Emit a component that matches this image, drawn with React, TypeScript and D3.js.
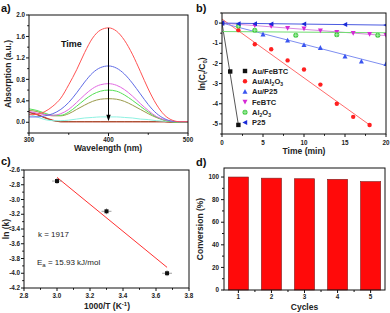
import React from 'react';
import * as d3 from 'd3';

// ---- panel a: UV-vis spectra ----
const WAVELENGTHS = [300, 310, 320, 330, 340, 350, 360, 370, 380, 390, 400, 410, 420, 430, 440, 450, 460, 470, 480, 490, 500];
const SPECTRA = [
  { color: '#ff5353', values: [0.14, 0.15, 0.2, 0.3, 0.45, 0.7, 0.98, 1.3, 1.57, 1.72, 1.76, 1.7, 1.53, 1.27, 0.95, 0.62, 0.34, 0.14, 0.04, 0.01, 0.01] },
  { color: '#5f6be6', values: [0.1, 0.1, 0.12, 0.16, 0.24, 0.37, 0.55, 0.75, 0.92, 1.02, 1.05, 1.01, 0.9, 0.73, 0.53, 0.33, 0.17, 0.07, 0.02, 0.01, 0.01] },
  { color: '#e268e2', values: [0.2, 0.17, 0.14, 0.13, 0.16, 0.24, 0.37, 0.51, 0.63, 0.7, 0.72, 0.69, 0.61, 0.49, 0.35, 0.22, 0.11, 0.05, 0.02, 0.01, 0.01] },
  { color: '#55e055', values: [0.25, 0.22, 0.17, 0.13, 0.13, 0.19, 0.3, 0.42, 0.52, 0.58, 0.6, 0.58, 0.51, 0.41, 0.3, 0.19, 0.1, 0.04, 0.01, 0.0, 0.0] },
  { color: '#9a9a4a', values: [0.22, 0.2, 0.15, 0.12, 0.12, 0.16, 0.24, 0.32, 0.39, 0.43, 0.44, 0.43, 0.39, 0.32, 0.24, 0.16, 0.09, 0.04, 0.01, 0.0, 0.0] },
  { color: '#8ef2e2', values: [0.15, 0.1, 0.05, 0.03, 0.03, 0.04, 0.06, 0.08, 0.09, 0.1, 0.1, 0.1, 0.09, 0.08, 0.06, 0.05, 0.03, 0.02, 0.01, 0.0, 0.0] },
  { color: '#a0522d', values: [0.18, 0.14, 0.08, 0.03, 0.01, 0.01, 0.01, 0.01, 0.01, 0.01, 0.01, 0.01, 0.01, 0.01, 0.01, 0.01, 0.01, 0.01, 0.0, 0.0, 0.0] },
  { color: '#d02020', values: [0.19, 0.15, 0.09, 0.04, 0.01, 0.01, 0.01, 0.01, 0.01, 0.01, 0.01, 0.01, 0.01, 0.01, 0.01, 0.01, 0.01, 0.01, 0.0, 0.0, 0.0] },
];

// ---- panel b: kinetics ----
const KINETICS = [
  { name: 'Au/FeBTC', color: '#111111', line: '#555555', shape: 'square',
    t: [0, 1, 2], v: [0, -2.4, -5.05], fit: [[0, 0], [2, -5.05]] },
  { name: 'Au/Al2O3', color: '#ff2020', line: '#ff6b6b', shape: 'circle',
    t: [2, 4, 6, 8, 10, 12, 14, 16, 18], v: [-0.35, -1.05, -1.3, -1.85, -2.3, -3.05, -4.0, -4.65, -5.05], fit: [[0, 0.2], [18, -5.05]] },
  { name: 'Au/P25', color: '#3a55f0', line: '#7e8ef0', shape: 'triUp',
    t: [0, 5, 8, 10, 12, 15, 17, 20], v: [0, -0.55, -0.85, -1.08, -1.22, -1.65, -1.9, -2.02], fit: [[0, 0], [20, -2.1]] },
  { name: 'FeBTC', color: '#d62ad6', line: '#d98ae0', shape: 'triDown',
    t: [0, 4, 6, 8, 10, 12, 14, 16, 18, 20], v: [0, -0.12, -0.15, -0.25, -0.28, -0.38, -0.45, -0.5, -0.55, -0.6], fit: [[0, 0], [20, -0.62]] },
  { name: 'Al2O3', color: '#3cc83c', line: '#70dc70', shape: 'circleCross',
    t: [2, 4, 9, 14, 19], v: [-0.15, -0.35, -0.6, -0.58, -0.6], fit: [[0, -0.42], [20, -0.48]] },
  { name: 'P25', color: '#1a2bd8', line: '#4a5ae0', shape: 'triLeft',
    t: [0, 2, 4, 6, 10, 15, 20], v: [0, -0.03, -0.03, -0.04, -0.05, -0.07, -0.1], fit: [[0, 0], [20, -0.1]] },
];
const LEGEND_LABELS = [['Au/FeBTC'], ['Au/Al', '2', 'O', '3'], ['Au/P25'], ['FeBTC'], ['Al', '2', 'O', '3'], ['P25']];

// ---- panel c: Arrhenius ----
const INV_T = [3.0, 3.3, 3.667];
const LN_K = [-2.75, -3.16, -4.0];
const FIT_C = [[3.0, -2.7], [3.667, -3.92]];

// ---- panel d: recycling ----
const CYCLES = ['1', '2', '3', '4', '5'];
const CONVERSION = [100, 99, 98.5, 98, 96];

const FONT = '"Liberation Sans", Arial, sans-serif';

type Lin = d3.ScaleLinear<number, number>;

function Frame({ x, y, major, minor, xFmt, yFmt, labelDy = 10 }: {
  x: Lin; y: Lin; major: [number[], number[]]; minor: [number[], number[]];
  xFmt: (v: number) => string; yFmt: (v: number) => string; labelDy?: number;
}) {
  const [x0, x1] = x.range();
  const [y0, y1] = y.range(); // y0 bottom
  return (
    <g fontFamily={FONT} fontWeight="bold" fontSize={6.3} fill="#222">
      <rect x={x0} y={y1} width={x1 - x0} height={y0 - y1} fill="none" stroke="#111" strokeWidth={1} />
      {major[0].map(v => (
        <g key={'xm' + v}>
          <line x1={x(v)} x2={x(v)} y1={y0} y2={y0 + 3} stroke="#111" />
          <text x={x(v)} y={y0 + labelDy} textAnchor="middle">{xFmt(v)}</text>
        </g>
      ))}
      {minor[0].map(v => (
        <line key={'xn' + v} x1={x(v)} x2={x(v)} y1={y0} y2={y0 + 1.8} stroke="#111" />
      ))}
      {major[1].map(v => (
        <g key={'ym' + v}>
          <line x1={x0} x2={x0 - 3} y1={y(v)} y2={y(v)} stroke="#111" />
          <text x={x0 - 4} y={y(v)} dy="0.35em" textAnchor="end">{yFmt(v)}</text>
        </g>
      ))}
      {minor[1].map(v => (
        <line key={'yn' + v} x1={x0} x2={x0 - 1.8} y1={y(v)} y2={y(v)} stroke="#111" />
      ))}
    </g>
  );
}

function Marker({ shape, cx, cy, color }: { shape: string; cx: number; cy: number; color: string }) {
  const s = 2.2;
  if (shape === 'square') return <rect x={cx - s} y={cy - s} width={2 * s} height={2 * s} fill={color} />;
  if (shape === 'circle') return <circle cx={cx} cy={cy} r={s} fill={color} />;
  if (shape === 'circleCross') return (
    <g>
      <circle cx={cx} cy={cy} r={s + 0.3} fill={color} />
      <path d={`M${cx - s},${cy}H${cx + s}M${cx},${cy - s}V${cy + s}`} stroke="#d8ffd8" strokeWidth={0.6} />
    </g>
  );
  const tri: Record<string, string> = {
    triUp: `M${cx},${cy - s - 0.4}L${cx + s + 0.3},${cy + s}L${cx - s - 0.3},${cy + s}Z`,
    triDown: `M${cx},${cy + s + 0.4}L${cx + s + 0.3},${cy - s}L${cx - s - 0.3},${cy - s}Z`,
    triLeft: `M${cx - s - 0.4},${cy}L${cx + s},${cy - s - 0.3}L${cx + s},${cy + s + 0.3}Z`,
  };
  return <path d={tri[shape]} fill={color} />;
}

export default function App() {
  // panel a
  const xa = d3.scaleLinear().domain([300, 500]).range([29, 188]);
  const ya = d3.scaleLinear().domain([-0.2, 2.0]).range([133, 15]);
  const lineA = d3.line<number>().x((_, i) => xa(WAVELENGTHS[i])).y(v => ya(v)).curve(d3.curveMonotoneX);

  // panel b
  const xb = d3.scaleLinear().domain([0, 20]).range([222, 386]);
  const yb = d3.scaleLinear().domain([-5.5, 0.5]).range([134, 13]);

  // panel c
  const xc = d3.scaleLinear().domain([2.8, 3.8]).range([24, 189]);
  const yc = d3.scaleLinear().domain([-4.2, -2.6]).range([288, 170]);

  // panel d
  const xd = d3.scaleBand<string>().domain(CYCLES).range([224, 385]).paddingInner(0.39).paddingOuter(0.13);
  const yd = d3.scaleLinear().domain([0, 108]).range([290, 168]);
  const xdLin = d3.scaleLinear().domain([0, 1]).range([224, 385]);

  const title = { fontFamily: FONT, fontWeight: 'bold' as const, fontSize: 8.5, fill: '#222' };
  const panelLbl = { fontFamily: FONT, fontWeight: 'bold' as const, fontSize: 11, fill: '#111' };

  return (
    <svg width={390} height={313} style={{ position: 'absolute', left: 0, top: 0, background: '#fff' }}>
      {/* ---------- a ---------- */}
      <text x={1} y={12} {...panelLbl}>a)</text>
      <clipPath id="clipA"><rect x={29} y={15} width={159} height={118} /></clipPath>
      <g clipPath="url(#clipA)">
        {SPECTRA.slice().reverse().map((s, i) => (
          <path key={i} d={lineA(s.values) || ''} fill="none" stroke={s.color} strokeWidth={1} />
        ))}
      </g>
      <line x1={xa(400)} x2={xa(400)} y1={ya(1.76)} y2={ya(0.08)} stroke="#000" strokeWidth={1} />
      <path d={`M${xa(400) - 2.2},${ya(0.14)}L${xa(400) + 2.2},${ya(0.14)}L${xa(400)},${ya(0.02)}Z`} fill="#000" />
      <text x={61} y={47} fontFamily={FONT} fontWeight="bold" fontSize={9} fill="#111">Time</text>
      <Frame x={xa} y={ya} labelDy={8.5}
        major={[[300, 400, 500], [0, 0.4, 0.8, 1.2, 1.6, 2.0]]}
        minor={[[350, 450], [-0.2, 0.2, 0.6, 1.0, 1.4, 1.8]]}
        xFmt={v => String(v)} yFmt={v => v.toFixed(1)} />
      <text x={108} y={151} textAnchor="middle" {...title}>Wavelength (nm)</text>
      <text transform="translate(11,74) rotate(-90)" textAnchor="middle" {...title}>Absorption (a.u.)</text>

      {/* ---------- b ---------- */}
      <text x={196} y={12} {...panelLbl}>b)</text>
      <clipPath id="clipB"><rect x={222} y={13} width={164} height={121} /></clipPath>
      <g clipPath="url(#clipB)">
        {KINETICS.map(k => (
          <line key={'f' + k.name} x1={xb(k.fit[0][0])} y1={yb(k.fit[0][1])} x2={xb(k.fit[1][0])} y2={yb(k.fit[1][1])}
            stroke={k.line} strokeWidth={1} />
        ))}
        {KINETICS.map(k => k.t.map((t, i) => (
          <Marker key={k.name + i} shape={k.shape} cx={xb(t)} cy={yb(k.v[i])} color={k.color} />
        )))}
      </g>
      {KINETICS.map((k, i) => (
        <g key={'lg' + i}>
          <Marker shape={k.shape} cx={245} cy={71 + i * 10.3} color={k.color} />
          <text x={252} y={71 + i * 10.3} dy="0.35em" fontFamily={FONT} fontWeight="bold" fontSize={7.5} fill="#222">
            {LEGEND_LABELS[i].length === 1 ? LEGEND_LABELS[i][0] : (
              <>
                {LEGEND_LABELS[i][0]}
                <tspan fontSize={5} dy={2}>{LEGEND_LABELS[i][1]}</tspan>
                <tspan dy={-2}>{LEGEND_LABELS[i][2]}</tspan>
                <tspan fontSize={5} dy={2}>{LEGEND_LABELS[i][3]}</tspan>
              </>
            )}
          </text>
        </g>
      ))}
      <Frame x={xb} y={yb} labelDy={10.5}
        major={[[0, 5, 10, 15, 20], [0, -1, -2, -3, -4, -5]]}
        minor={[[2.5, 7.5, 12.5, 17.5], [0.5, -0.5, -1.5, -2.5, -3.5, -4.5, -5.5]]}
        xFmt={v => String(v)} yFmt={v => String(v)} />
      <text x={304} y={154} textAnchor="middle" {...title}>Time (min)</text>
      <text transform="translate(205,74) rotate(-90)" textAnchor="middle" {...title}>
        ln(C<tspan fontSize={6} dy={2}>t</tspan><tspan dy={-2}>/C</tspan><tspan fontSize={6} dy={2}>0</tspan><tspan dy={-2}>)</tspan>
      </text>

      {/* ---------- c ---------- */}
      <text x={1} y={165} {...panelLbl}>c)</text>
      <line x1={xc(FIT_C[0][0])} y1={yc(FIT_C[0][1])} x2={xc(FIT_C[1][0])} y2={yc(FIT_C[1][1])} stroke="#ff3030" strokeWidth={1} />
      {INV_T.map((t, i) => (
        <g key={'c' + i}>
          <path d={`M${xc(t - 0.03)},${yc(LN_K[i])}H${xc(t + 0.03)}M${xc(t)},${yc(LN_K[i] - 0.04)}V${yc(LN_K[i] + 0.04)}`}
            stroke="#888" strokeWidth={0.8} />
          <rect x={xc(t) - 2} y={yc(LN_K[i]) - 2} width={4} height={4} fill="#111" />
        </g>
      ))}
      <text x={38} y={237} fontFamily={FONT} fontSize={8} fill="#222">k = 1917</text>
      <text x={37} y={265} fontFamily={FONT} fontSize={8} fill="#222">
        E<tspan fontSize={6} dy={2}>a</tspan><tspan dy={-2}> = 15.93 kJ/mol</tspan>
      </text>
      <Frame x={xc} y={yc}
        major={[[2.8, 3.0, 3.2, 3.4, 3.6, 3.8], [-4.2, -4.0, -3.8, -3.6, -3.4, -3.2, -3.0, -2.8, -2.6]]}
        minor={[[2.9, 3.1, 3.3, 3.5, 3.7], [-4.1, -3.9, -3.7, -3.5, -3.3, -3.1, -2.9, -2.7]]}
        xFmt={v => v.toFixed(1)} yFmt={v => v.toFixed(1)} />
      <text x={107} y={309} textAnchor="middle" {...title}>
        1000/T (K<tspan fontSize={6} dy={-3}>-1</tspan><tspan dy={3}>)</tspan>
      </text>
      <text transform="translate(9,229) rotate(-90)" textAnchor="middle" {...title}>ln (k)</text>

      {/* ---------- d ---------- */}
      <text x={196} y={166} {...panelLbl}>d)</text>
      {CYCLES.map((c, i) => (
        <rect key={c} x={xd(c)} y={yd(CONVERSION[i])} width={xd.bandwidth()} height={yd(0) - yd(CONVERSION[i])}
          fill="#ff0a0a" stroke="#7a2020" strokeWidth={0.6} />
      ))}
      <g fontFamily={FONT} fontWeight="bold" fontSize={6.3} fill="#222">
        <rect x={224} y={168} width={161} height={122} fill="none" stroke="#111" />
        {CYCLES.map(c => (
          <g key={'t' + c}>
            <line x1={xd(c)! + xd.bandwidth() / 2} x2={xd(c)! + xd.bandwidth() / 2} y1={290} y2={293} stroke="#111" />
            <text x={xd(c)! + xd.bandwidth() / 2} y={299} textAnchor="middle">{c}</text>
          </g>
        ))}
        {CYCLES.slice(1).map(c => (
          <line key={'tm' + c} x1={xd(c)! - xd.step() * xd.paddingInner() / 2} x2={xd(c)! - xd.step() * xd.paddingInner() / 2}
            y1={290} y2={292} stroke="#111" />
        ))}
        {[0, 20, 40, 60, 80, 100].map(v => (
          <g key={'dy' + v}>
            <line x1={224} x2={221} y1={yd(v)} y2={yd(v)} stroke="#111" />
            <text x={219} y={yd(v)} dy="0.35em" textAnchor="end">{v}</text>
          </g>
        ))}
        {[10, 30, 50, 70, 90].map(v => (
          <line key={'dn' + v} x1={224} x2={222} y1={yd(v)} y2={yd(v)} stroke="#111" />
        ))}
      </g>
      <text x={xdLin(0.5)} y={310} textAnchor="middle" {...title}>Cycles</text>
      <text transform="translate(203,229) rotate(-90)" textAnchor="middle" {...title}>Conversion (%)</text>
    </svg>
  );
}
